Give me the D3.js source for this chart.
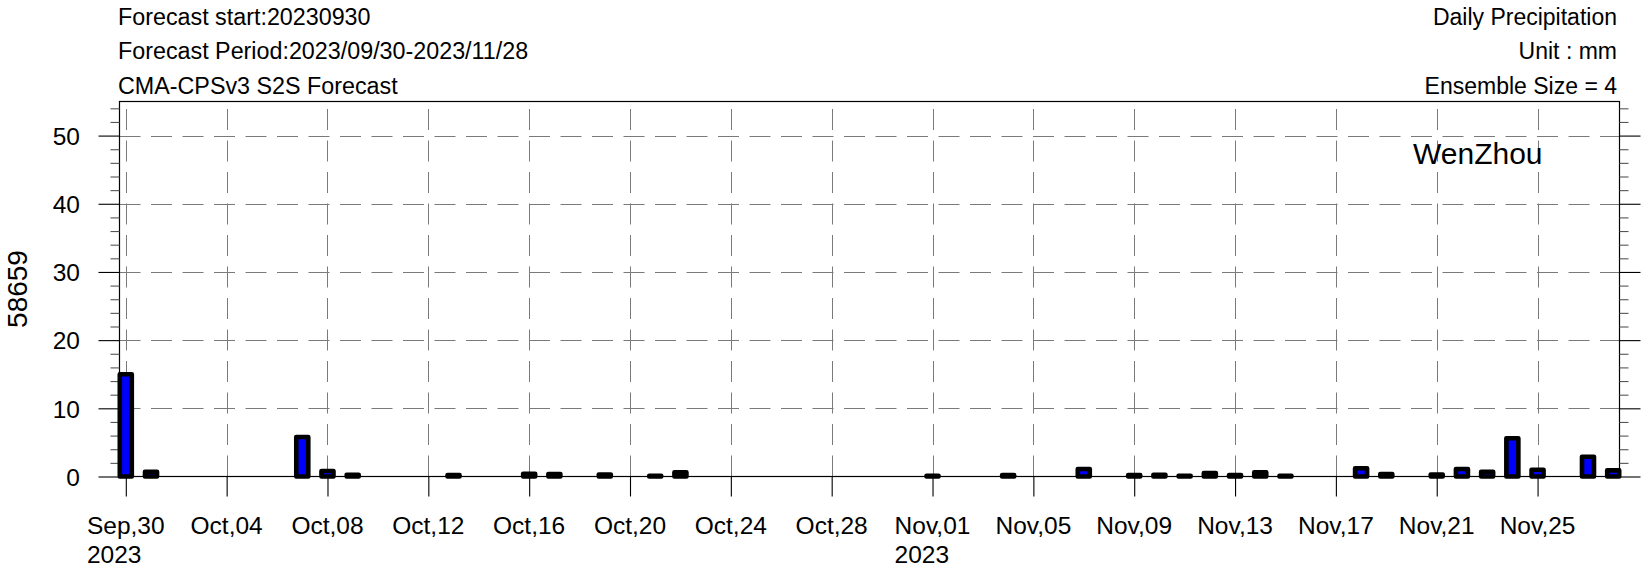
<!DOCTYPE html>
<html>
<head>
<meta charset="utf-8">
<script src="https://cdn.jsdelivr.net/npm/d3@7"></script>
<style>
  html, body { margin: 0; padding: 0; background: #fff; }
  svg { display: block; font-family: "Liberation Sans", Arial, Helvetica, sans-serif; }
</style>
</head>
<body>
<svg id="chart" width="1649" height="573"></svg>
<script>
// ---------------- data ----------------
const startDate = "2023-09-30";
const endDate = "2023-11-28";
// daily precipitation (mm), one value per day from Sep 30 to Nov 28 (60 days)
const precip = [
  15.0, 0.7, 0, 0, 0, 0, 0, 5.8, 0.8, 0.25,          // Sep30 - Oct09
  0, 0, 0, 0.2, 0, 0, 0.4, 0.35, 0, 0.3,             // Oct10 - Oct19
  0, 0.1, 0.6, 0, 0, 0, 0, 0, 0, 0,                  // Oct20 - Oct29
  0, 0, 0.1, 0, 0, 0.2, 0, 0, 1.1, 0,                // Oct30 - Nov08
  0.2, 0.25, 0.1, 0.5, 0.2, 0.6, 0.1, 0, 0, 1.2,     // Nov09 - Nov18
  0.35, 0, 0.3, 1.1, 0.7, 5.6, 1.0, 0, 2.9, 0.9      // Nov19 - Nov28
];
const xTickDays = [0, 4, 8, 12, 16, 20, 24, 28, 32, 36, 40, 44, 48, 52, 56];
const xTickLabels = [
  ["Sep,30", "2023"], ["Oct,04"], ["Oct,08"], ["Oct,12"], ["Oct,16"],
  ["Oct,20"], ["Oct,24"], ["Oct,28"], ["Nov,01", "2023"], ["Nov,05"],
  ["Nov,09"], ["Nov,13"], ["Nov,17"], ["Nov,21"], ["Nov,25"]
];
const yMajorTicks = [0, 10, 20, 30, 40, 50];
const yMinorTicks = [2, 4, 6, 8, 12, 14, 16, 18, 22, 24, 26, 28, 32, 34, 36, 38, 42, 44, 46, 48, 52, 54];
const yDomain = [0, 55];
const leftTitles = ["Forecast start:20230930", "Forecast Period:2023/09/30-2023/11/28", "CMA-CPSv3 S2S Forecast"];
const rightTitles = ["Daily Precipitation", "Unit : mm", "Ensemble Size = 4"];
const stationName = "WenZhou";
const stationId = "58659";

// ---------------- layout ----------------
const L = 119.5, R = 1619.5, T = 101.5, B = 476.5;
const svg = d3.select("#chart");

const x = d3.scaleLinear().domain([-0.25, precip.length - 1 + 0.25]).range([L, R]);
const y = d3.scaleLinear().domain(yDomain).range([B, T]);

const gridColor = "#7a7a7a";
const dash = "21,10.5";

// gridlines
const grid = svg.append("g");
grid.selectAll("line.h").data(yMajorTicks.filter(d => d > 0)).join("line")
  .attr("x1", L).attr("x2", R)
  .attr("y1", d => Math.round(y(d)) + 0.5).attr("y2", d => Math.round(y(d)) + 0.5)
  .attr("stroke", gridColor).attr("stroke-width", 1).attr("stroke-dasharray", dash);
grid.selectAll("line.v").data(xTickDays).join("line")
  .attr("x1", d => Math.round(x(d)) + 0.5).attr("x2", d => Math.round(x(d)) + 0.5)
  .attr("y1", B).attr("y2", T)
  .attr("stroke", gridColor).attr("stroke-width", 1).attr("stroke-dasharray", dash);

// frame
svg.append("rect").attr("x", L).attr("y", T).attr("width", R - L).attr("height", B - T)
  .attr("fill", "none").attr("stroke", "#000").attr("stroke-width", 1.2);

// axes ticks
function styleAxis(g) {
  g.select(".domain").remove();
  g.selectAll(".tick line").attr("stroke", "#000").attr("stroke-width", 1.1);
}
svg.append("g").attr("transform", `translate(${L},0)`)
  .call(d3.axisLeft(y).tickValues(yMinorTicks).tickSize(9).tickSizeOuter(0).tickFormat(""))
  .call(styleAxis).selectAll(".tick line").attr("stroke", "#555");
svg.append("g").attr("transform", `translate(${R},0)`)
  .call(d3.axisRight(y).tickValues(yMinorTicks).tickSize(9).tickSizeOuter(0).tickFormat(""))
  .call(styleAxis).selectAll(".tick line").attr("stroke", "#555");
const yLeft = svg.append("g").attr("transform", `translate(${L},0)`)
  .call(d3.axisLeft(y).tickValues(yMajorTicks).tickSize(21).tickSizeOuter(0).tickPadding(18.5).tickFormat(d3.format("d")))
  .call(styleAxis);
yLeft.selectAll(".tick text").attr("font-size", 24.5).attr("fill", "#000").attr("dy", "0.36em")
  .attr("font-family", "'Liberation Sans', Arial, Helvetica, sans-serif");
svg.append("g").attr("transform", `translate(${R},0)`)
  .call(d3.axisRight(y).tickValues(yMajorTicks).tickSize(21).tickSizeOuter(0).tickFormat(""))
  .call(styleAxis);
svg.append("g").attr("transform", `translate(0,${B})`)
  .call(d3.axisBottom(x).tickValues(xTickDays).tickSize(20).tickSizeOuter(0).tickFormat(""))
  .call(styleAxis);

// x tick labels (multi-line, left-aligned lines centered on first line)
const xl = svg.append("g").attr("font-size", 24.5).attr("fill", "#000");
xTickDays.forEach((d, i) => {
  const lines = xTickLabels[i];
  const t = xl.append("text").attr("x", x(d)).attr("y", 534).attr("text-anchor", "middle").text(lines[0]);
  if (lines.length > 1) {
    const w = t.node().getComputedTextLength();
    xl.append("text").attr("x", x(d) - w / 2).attr("y", 563).attr("text-anchor", "start").text(lines[1]);
  }
});

// bars
svg.append("g").selectAll("rect")
  .data(precip.map((v, i) => ({ i, v })).filter(d => d.v > 0))
  .join("rect")
  .attr("x", d => x(d.i) - 6)
  .attr("width", 12)
  .attr("y", d => y(d.v))
  .attr("height", d => y(0) - y(d.v))
  .attr("fill", "#0000ff")
  .attr("stroke", "#000")
  .attr("stroke-width", 4.6)
  .attr("stroke-linejoin", "round");

// titles
const titleBaselines = [25, 59, 93.5];
svg.append("g").selectAll("text").data(leftTitles).join("text")
  .attr("x", 118).attr("y", (d, i) => titleBaselines[i])
  .attr("font-size", 23.3).attr("fill", "#000").text(d => d);
svg.append("g").selectAll("text").data(rightTitles).join("text")
  .attr("x", 1617).attr("y", (d, i) => titleBaselines[i]).attr("text-anchor", "end")
  .attr("font-size", 23).attr("fill", "#000").text(d => d);

// station name inside plot
svg.append("text").attr("x", 1413).attr("y", 164).attr("font-size", 30).attr("fill", "#000").text(stationName);

// y-axis title
svg.append("text").attr("transform", "translate(27,289) rotate(-90)")
  .attr("text-anchor", "middle").attr("font-size", 28).attr("fill", "#000").text(stationId);
</script>
</body>
</html>
